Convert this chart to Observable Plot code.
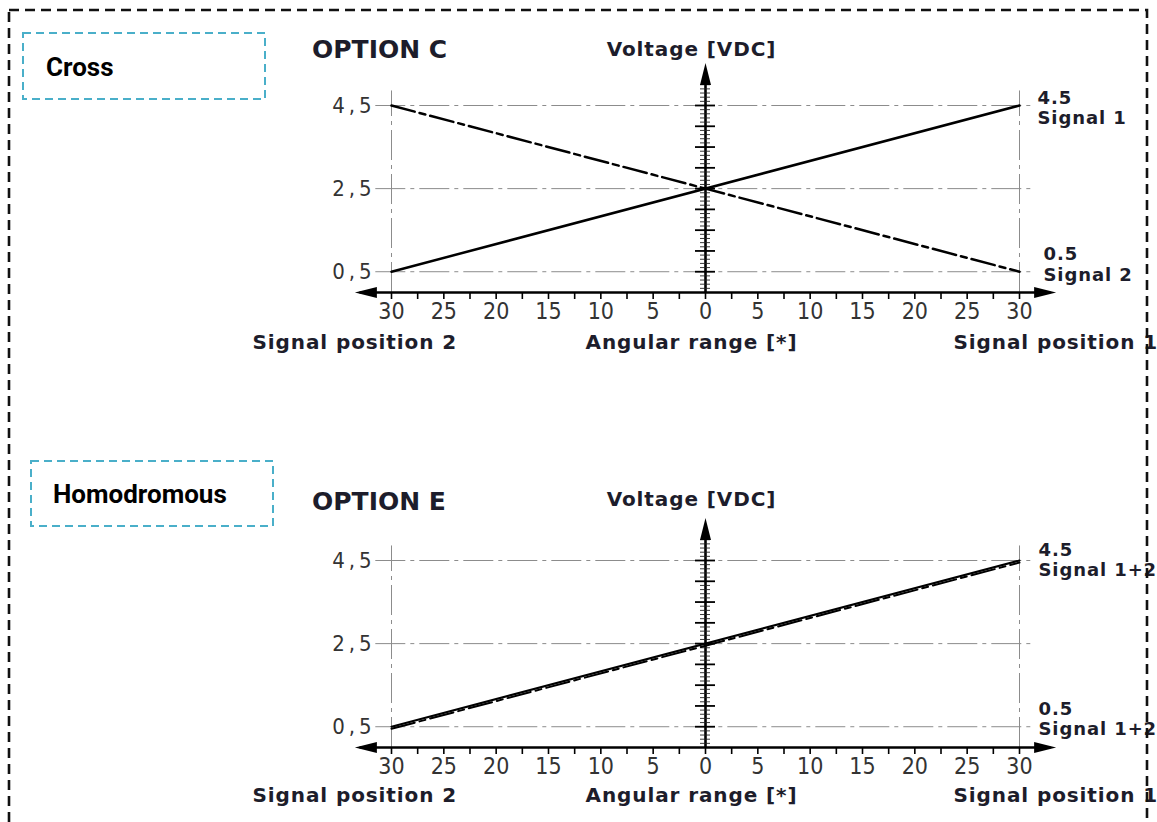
<!DOCTYPE html>
<html>
<head>
<meta charset="utf-8">
<script src="https://cdn.jsdelivr.net/npm/d3@7"></script>
<script src="https://cdn.jsdelivr.net/npm/@observablehq/plot@0.6"></script>
<style>
  html, body { margin: 0; padding: 0; background: #fff; }
  #wrap { position: relative; width: 1157px; height: 822px; overflow: hidden; background: #fff; }
  #wrap svg.panel { position: absolute; left: 0; }
  #wrap svg.panel g[font-weight="bold"] text { letter-spacing: 0.9px; }
  #overlay { position: absolute; left: 0; top: 0; pointer-events: none; }
</style>
</head>
<body>
<div id="wrap"></div>
<script>
// ---------- data ----------
const angles = [-30, 30];                    // angular range (degrees), left = signal position 2
const optionC_signal1 = [0.5, 4.5];          // solid
const optionC_signal2 = [4.5, 0.5];          // dashed
const optionE_signal1 = [0.5, 4.5];          // solid
const optionE_signal2 = [0.45, 4.45];        // dashed (drawn just below)

const xTickLabelValues = [-30, -25, -20, -15, -10, -5, 0, 5, 10, 15, 20, 25, 30];
const xTickLabels = ["30", "25", "20", "15", "10", "5", "0", "5", "10", "15", "20", "25", "30"];
const xTickMarks = [-30, -27.5, -25, -22.5, -20, -17.5, -15, -12.5, -10, -7.5, -5, -2.5, 0,
                    2.5, 5, 7.5, 10, 12.5, 15, 17.5, 20, 22.5, 25, 27.5, 30];
const yLabelValues = [0.5, 2.5, 4.5];
const yLabelTexts = ["0\u2009,\u20095", "2\u2009,\u20095", "4\u2009,\u20095"];
const yMajorTicks = [0.5, 1, 1.5, 2, 2.5, 3, 3.5, 4, 4.5];
const yMinorTicks = [0.1, 0.2, 0.3, 0.4, 0.6, 0.7, 0.8, 0.9, 1.1, 1.2, 1.3, 1.4, 1.6, 1.7, 1.8, 1.9,
                     2.1, 2.2, 2.3, 2.4, 2.6, 2.7, 2.8, 2.9, 3.1, 3.2, 3.3, 3.4, 3.6, 3.7, 3.8, 3.9,
                     4.1, 4.2, 4.3, 4.4, 4.6, 4.7, 4.8, 4.9, 5.0];
const gridAngles = [-30, 30];

const panels = [
  { top: 0, marginTop: 105, marginBottom: 119, option: "OPTION C", group: "Cross",
    s1: optionC_signal1, s2: optionC_signal2, lineWidth: 2.5,
    topValue: "4.5", topSignal: "Signal 1", bottomValue: "0.5", bottomSignal: "Signal 2",
    voltDy: -56, footDy: 50,
    topValDx: 18, topValDy: -7, topSigDy: 13, botValDx: 24, botValDy: -17, botSigDy: 4 },
  { top: 411, marginTop: 149, marginBottom: 75, option: "OPTION E", group: "Homodromous",
    s1: optionE_signal1, s2: optionE_signal2, lineWidth: 2,
    topValue: "4.5", topSignal: "Signal 1+2", bottomValue: "0.5", bottomSignal: "Signal 1+2",
    voltDy: -61, footDy: 48,
    topValDx: 19, topValDy: -10, topSigDy: 10, botValDx: 19, botValDy: -17, botSigDy: 3 }
];

// ---------- styles ----------
const narrow = "'Liberation Sans Narrow', 'Arial Narrow', 'DejaVu Sans Condensed', sans-serif";
const boldFont = "'DejaVu Sans', 'Open Sans', sans-serif";
const ink = "#1d1d2b";
const gridColor = "#8c8c8c";
const gridDash = "30,5,4,5";

const arrowHead = {
  draw(ctx) {
    ctx.moveTo(0, 0);
    ctx.lineTo(5.5, 22);
    ctx.lineTo(-5.5, 22);
    ctx.closePath();
  }
};
const axisEnds = [
  { x: 0, y: 5.52, rot: 0 },
  { x: -33.5, y: 0, rot: -90 },
  { x: 33.5, y: 0, rot: 90 }
];

const wrap = document.getElementById("wrap");

for (const p of panels) {
  const s1 = angles.map((a, i) => ({ a, v: p.s1[i] }));
  const s2 = angles.map((a, i) => ({ a, v: p.s2[i] }));
  const labelOpts = { textAnchor: "start", fontSize: 18, fontWeight: "bold", fontFamily: boldFont, fill: ink };
  const svg = Plot.plot({
    width: 1157,
    height: 411,
    marginLeft: 391,
    marginRight: 138,
    marginTop: p.marginTop,
    marginBottom: p.marginBottom,
    x: { domain: [-30, 30], axis: null },
    y: { domain: [0, 4.5], axis: null },
    style: { background: "transparent", overflow: "visible" },
    marks: [
      // dash-dot grid
      Plot.ruleY(yLabelValues, { y: d => d, x1: () => -31.5, x2: () => 31.5,
        stroke: gridColor, strokeWidth: 1, strokeDasharray: gridDash }),
      Plot.ruleX(gridAngles, { x: d => d, y1: () => 0, y2: () => 4.85,
        stroke: gridColor, strokeWidth: 1, strokeDasharray: gridDash }),
      // axes
      Plot.ruleY([0], { x1: () => -33, x2: () => 33, stroke: "#000", strokeWidth: 2.6 }),
      Plot.ruleX([0], { y1: () => 0, y2: () => 5.3, stroke: "#000", strokeWidth: 2.6 }),
      Plot.ruleX(xTickMarks, { x: d => d, y1: () => 0, y2: () => 0, insetBottom: -7,
        stroke: "#000", strokeWidth: 1.6 }),
      Plot.ruleY(yMinorTicks, { y: d => d, x1: () => 0, x2: () => 0, insetLeft: -5, insetRight: -5,
        stroke: "#222", strokeWidth: 0.9 }),
      Plot.ruleY(yMajorTicks, { y: d => d, x1: () => 0, x2: () => 0, insetLeft: -10, insetRight: -10,
        stroke: "#000", strokeWidth: 1.8 }),
      Plot.dot(axisEnds, { x: "x", y: "y", rotate: "rot", symbol: arrowHead, r: 5,
        fill: "#000", stroke: "none" }),
      // signals
      Plot.line(s2, { x: "a", y: "v", stroke: "#000", strokeWidth: p.lineWidth, strokeDasharray: "24,5,6,5" }),
      Plot.line(s1, { x: "a", y: "v", stroke: "#000", strokeWidth: p.lineWidth }),
      // tick labels
      Plot.text(xTickLabelValues, { x: d => d, y: () => 0, dy: 19,
        text: (d, i) => xTickLabels[i], fontSize: 23, fontFamily: narrow, fill: "#333" }),
      Plot.text(yLabelValues, { x: () => -30, y: d => d, dx: -20, textAnchor: "end",
        text: (d, i) => yLabelTexts[i], fontSize: 22, fontFamily: narrow, fill: "#333" }),
      // axis titles
      Plot.text(["Voltage [VDC]"], { x: () => 0, y: () => 4.5, dy: p.voltDy, dx: -14,
        text: d => d, fontSize: 20, fontWeight: "bold", fontFamily: boldFont, fill: ink }),
      Plot.text(["Signal position 2"], { x: () => -30, y: () => 0, dx: -139, dy: p.footDy,
        textAnchor: "start", text: d => d, fontSize: 20, fontWeight: "bold", fontFamily: boldFont, fill: ink }),
      Plot.text(["Angular range [*]"], { x: () => 0, y: () => 0, dx: -14, dy: p.footDy,
        text: d => d, fontSize: 20, fontWeight: "bold", fontFamily: boldFont, fill: ink }),
      Plot.text(["Signal position 1"], { x: () => 30, y: () => 0, dx: -66, dy: p.footDy,
        textAnchor: "start", text: d => d, fontSize: 20, fontWeight: "bold", fontFamily: boldFont, fill: ink }),
      // end labels
      Plot.text([p.topValue], { x: () => 30, y: () => 4.5, dx: p.topValDx, dy: p.topValDy, text: d => d, ...labelOpts }),
      Plot.text([p.topSignal], { x: () => 30, y: () => 4.5, dx: p.topValDx, dy: p.topSigDy, text: d => d, ...labelOpts }),
      Plot.text([p.bottomValue], { x: () => 30, y: () => 0.5, dx: p.botValDx, dy: p.botValDy, text: d => d, ...labelOpts }),
      Plot.text([p.bottomSignal], { x: () => 30, y: () => 0.5, dx: p.botValDx, dy: p.botSigDy, text: d => d, ...labelOpts })
    ]
  });
  svg.classList.add("panel");
  svg.style.top = p.top + "px";
  wrap.appendChild(svg);
}

// ---------- decorations: frame, group boxes, option titles ----------
const ov = d3.select(wrap).append("svg")
  .attr("id", "overlay").attr("width", 1157).attr("height", 822);
ov.append("rect").attr("x", 9).attr("y", 10).attr("width", 1138).attr("height", 900)
  .attr("fill", "none").attr("stroke", "#111").attr("stroke-width", 2.6)
  .attr("stroke-dasharray", "10,6");
const boxes = [
  { x: 23, y: 33, w: 242, h: 66, tx: 46, ty: 76, label: panels[0].group },
  { x: 31, y: 461, w: 242, h: 65, tx: 53, ty: 503, label: panels[1].group }
];
for (const b of boxes) {
  ov.append("rect").attr("x", b.x).attr("y", b.y).attr("width", b.w).attr("height", b.h)
    .attr("fill", "none").attr("stroke", "#4aafc9").attr("stroke-width", 2)
    .attr("stroke-dasharray", "8,5");
  ov.append("text").attr("x", b.tx).attr("y", b.ty).text(b.label)
    .attr("font-family", "Roboto, 'Open Sans', sans-serif").attr("font-weight", 700)
    .attr("font-size", 26).attr("fill", "#000");
}
const titles = [
  { x: 312, y: 58, label: panels[0].option },
  { x: 312, y: 510, label: panels[1].option }
];
for (const t of titles) {
  ov.append("text").attr("x", t.x).attr("y", t.y).text(t.label)
    .attr("font-family", boldFont).attr("font-weight", 700)
    .attr("font-size", 25).attr("fill", ink);
}
</script>
</body>
</html>
